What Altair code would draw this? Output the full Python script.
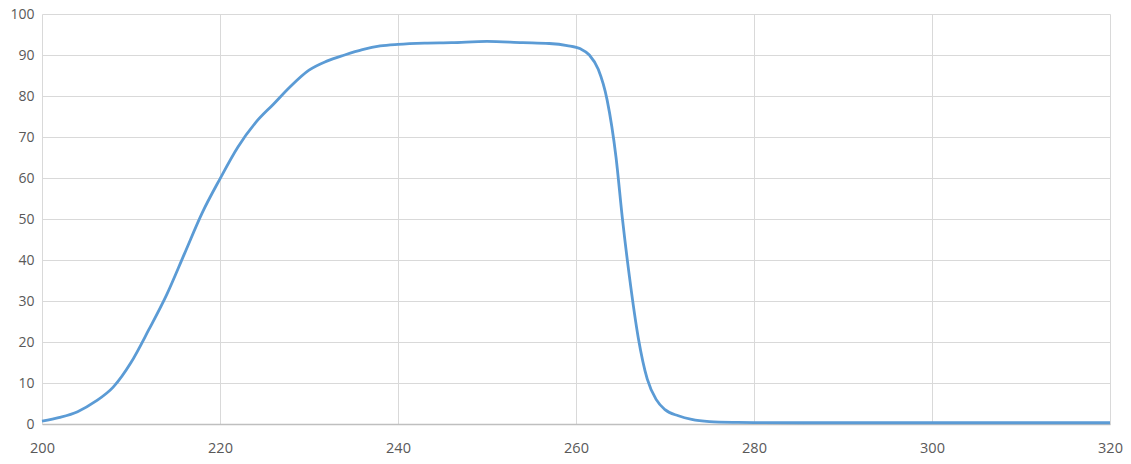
import altair as alt
import pandas as pd

wavelength = [200, 202, 204, 206, 208, 210, 212, 214, 216, 218, 220, 222, 224, 226, 228,
              230, 232, 234, 236, 238, 240, 243, 246, 250, 254, 257, 259, 260.5, 261.5,
              262.5, 263.5, 264.5, 265.2, 266, 267, 268, 269, 270, 271.5, 273, 275, 278,
              280, 290, 300, 310, 320]
transmission = [0.7, 1.6, 3.0, 5.5, 9.0, 15, 23, 31.5, 41.5, 51.5, 59.8, 67.5, 73.5, 78,
                82.5, 86.3, 88.5, 90, 91.3, 92.2, 92.6, 92.9, 93.0, 93.3, 93.0, 92.8, 92.3,
                91.5, 90, 86.5, 79, 65, 50.4, 36, 21, 11, 6, 3.5, 2, 1.1, 0.6, 0.4,
                0.35, 0.3, 0.3, 0.3, 0.3]
x_ticks = [200, 220, 240, 260, 280, 300, 320]
y_ticks = [0, 10, 20, 30, 40, 50, 60, 70, 80, 90, 100]

df = pd.DataFrame({"wl": wavelength, "t": transmission})

chart = alt.Chart(df).mark_line(
    color="#5b9bd5", strokeWidth=2.8, interpolate="monotone"
).encode(
    x=alt.X("wl:Q", scale=alt.Scale(domain=[200, 320], nice=False, zero=False),
            axis=alt.Axis(values=x_ticks, title=None, ticks=False, labelPadding=17,
                          labelFlush=False,
                          domainColor="#bfbfbf", domainWidth=1.3, gridColor="#d9d9d9",
                          labelFont="Open Sans", labelFontSize=14.5, labelColor="#595959")),
    y=alt.Y("t:Q", scale=alt.Scale(domain=[0, 100], nice=False),
            axis=alt.Axis(values=y_ticks, title=None, ticks=False, domain=False, labelPadding=8,
                          labelFlush=False, gridColor="#d9d9d9",
                          labelFont="Open Sans", labelFontSize=14, labelColor="#595959")),
).properties(
    width=1068, height=410,
    autosize=alt.AutoSizeParams(type="none"),
    padding={"left": 34, "top": 6, "right": 13, "bottom": 40},
).configure_view(stroke=None).configure_axis(gridWidth=1)

chart.save("out.html", embed_options={"renderer": "svg", "actions": False})
